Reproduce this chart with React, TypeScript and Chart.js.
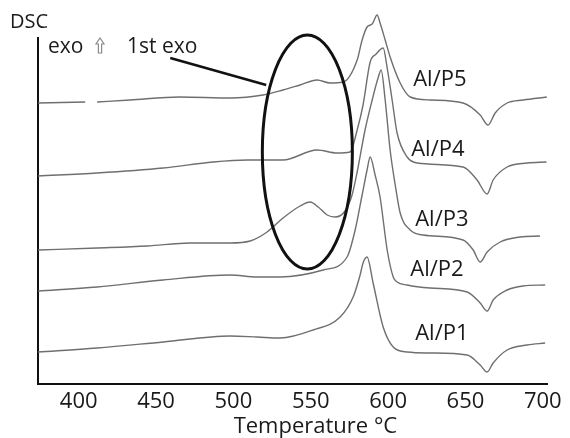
import React, { useEffect, useRef } from "react";
import { Chart, registerables } from "chart.js";

Chart.register(...registerables);

// Temperature axis (°C) and DSC heat-flow traces (arbitrary units, offset per sample)
const tempTicks = [400, 450, 500, 550, 600, 650, 700];

const p1Temp = [373.8, 411.9, 454.6, 497.9, 515.3, 530.2, 551.5, 569.0, 577.4, 581.9, 583.8, 586.4, 590.3, 596.8, 603.3, 612.3, 627.2, 651.1, 659.5, 664.0, 667.9, 676.9, 689.8, 701.5];
const p1Flow = [3.4, 3.8, 4.4, 5.0, 4.9, 4.8, 5.6, 6.9, 8.9, 11.1, 12.3, 12.9, 10.3, 5.9, 3.9, 3.4, 3.3, 3.1, 2.1, 1.4, 2.3, 3.6, 4.1, 4.3];

const p2Temp = [373.8, 411.9, 454.6, 497.9, 515.3, 530.2, 558.0, 573.5, 578.7, 583.2, 586.4, 588.4, 591.6, 594.8, 599.4, 603.3, 605.8, 612.3, 627.2, 651.1, 659.5, 664.0, 667.9, 676.9, 687.3, 701.5];
const p2Flow = [9.5, 9.9, 10.6, 11.1, 10.9, 10.9, 11.6, 12.9, 15.6, 19.1, 21.6, 22.9, 21.1, 18.9, 13.6, 10.9, 10.4, 10.1, 9.8, 9.4, 8.3, 7.5, 8.6, 9.6, 10.0, 10.1];

const p3Temp = [373.8, 411.9, 444.3, 472.1, 497.9, 510.8, 521.8, 532.1, 543.1, 549.6, 554.8, 560.6, 565.8, 572.2, 576.7, 580.0, 585.1, 589.7, 593.5, 595.5, 598.1, 601.3, 604.6, 607.8, 614.3, 622.6, 648.5, 655.0, 659.5, 664.0, 672.4, 685.3, 698.2];
const p3Flow = [13.6, 13.8, 14.0, 14.3, 14.3, 14.5, 15.4, 16.8, 18.0, 18.4, 17.9, 17.1, 16.9, 17.5, 19.1, 21.4, 25.6, 28.6, 30.8, 31.6, 28.6, 23.6, 20.1, 17.3, 15.6, 15.1, 14.6, 13.6, 12.4, 13.4, 14.4, 14.9, 15.0];

const p4Temp = [373.8, 411.9, 454.6, 486.9, 508.9, 532.1, 554.1, 567.0, 575.4, 580.0, 583.8, 588.4, 592.3, 596.8, 599.4, 602.6, 605.8, 612.3, 618.8, 648.5, 657.5, 664.0, 667.9, 676.9, 689.8, 702.4];
const p4Flow = [21.0, 21.3, 21.8, 22.4, 22.6, 22.6, 23.6, 23.3, 23.4, 25.6, 28.1, 32.4, 33.2, 33.8, 31.8, 28.6, 25.3, 22.9, 22.3, 21.9, 20.6, 19.2, 20.6, 21.9, 22.3, 22.4];

const p5Temp = [373.8, 404.2, 408.0, 411.9, 433.2, 465.5, 497.9, 519.2, 532.1, 543.1, 554.1, 562.5, 570.9, 580.0, 583.2, 586.4, 589.7, 592.9, 594.8, 598.1, 601.3, 607.8, 614.3, 627.2, 648.5, 659.5, 664.6, 669.2, 676.9, 687.3, 702.6];
const p5Flow = [28.3, 28.4, null, 28.4, 28.6, 28.9, 28.8, 29.1, 29.6, 30.1, 30.6, 30.3, 30.4, 32.6, 34.6, 35.9, 36.2, 37.1, 36.3, 34.6, 32.9, 30.3, 28.9, 28.6, 28.3, 27.1, 26.1, 27.3, 28.3, 28.6, 28.9];

const seriesNames = ["Al/P1", "Al/P2", "Al/P3", "Al/P4", "Al/P5"];
const labelTemp = [617.5, 614.3, 617.5, 614.9, 616.2];
const labelFlow = [5.2, 11.6, 16.6, 23.6, 30.6];

// Highlighted first exotherm region and its pointer
const ellipseCenter = [547.8, 23.4];
const ellipseRadius = [29.1, 11.7];
const pointerFrom = [459.2, 32.8];
const pointerTo = [521.2, 30.1];
const axisTitleTemp = 553;

const FONT = "'Open Sans', 'DejaVu Sans', sans-serif";
const CURVE = "#6f6f6f";
const INK = "#1a1a1a";

const annotate = {
  id: "annotate",
  afterDraw(chart: any) {
    const { ctx, chartArea, scales } = chart;
    const xs = scales.x;
    const ys = scales.y;
    const px = (t: number) => xs.getPixelForValue(t);
    const py = (v: number) => ys.getPixelForValue(v);
    ctx.save();

    // ellipse around the first exotherm
    const cx = px(ellipseCenter[0]);
    const cy = py(ellipseCenter[1]);
    const rx = px(ellipseCenter[0] + ellipseRadius[0]) - cx;
    const ry = cy - py(ellipseCenter[1] + ellipseRadius[1]);
    ctx.beginPath();
    ctx.ellipse(cx, cy, rx, ry, 0, 0, Math.PI * 2);
    ctx.lineWidth = 3;
    ctx.strokeStyle = "#111";
    ctx.stroke();

    // pointer from the "1st exo" note
    ctx.beginPath();
    ctx.moveTo(px(pointerFrom[0]), py(pointerFrom[1]));
    ctx.lineTo(px(pointerTo[0]), py(pointerTo[1]));
    ctx.lineWidth = 2.5;
    ctx.stroke();

    // sample labels
    ctx.fillStyle = INK;
    ctx.font = `22px ${FONT}`;
    ctx.textAlign = "left";
    ctx.textBaseline = "middle";
    seriesNames.forEach((name, i) => {
      ctx.fillText(name, px(labelTemp[i]), py(labelFlow[i]));
    });

    // x-axis title
    ctx.textAlign = "center";
    ctx.textBaseline = "alphabetic";
    ctx.font = `22px ${FONT}`;
    ctx.fillText("Temperature °C", px(axisTitleTemp), chartArea.bottom + 49);

    // y-axis caption and exo marker
    const left = chartArea.left;
    const top = chartArea.top;
    ctx.textAlign = "left";
    ctx.font = `20px ${FONT}`;
    ctx.fillText("DSC", left - 28, top - 10);
    ctx.font = `21px ${FONT}`;
    ctx.fillText("exo", left + 10, top + 15);
    ctx.fillText("1st exo", left + 89, top + 15);

    // hollow up arrow
    const ax = left + 62;
    const ay = top;
    ctx.beginPath();
    ctx.moveTo(ax, ay);
    ctx.lineTo(ax + 4, ay + 6);
    ctx.lineTo(ax + 1.6, ay + 6);
    ctx.lineTo(ax + 1.6, ay + 15);
    ctx.lineTo(ax - 1.6, ay + 15);
    ctx.lineTo(ax - 1.6, ay + 6);
    ctx.lineTo(ax - 4, ay + 6);
    ctx.closePath();
    ctx.lineWidth = 1.2;
    ctx.strokeStyle = "#8a8a8a";
    ctx.stroke();

    ctx.restore();
  },
};

export default function App() {
  const ref = useRef<HTMLCanvasElement>(null);

  useEffect(() => {
    const canvas = ref.current;
    if (!canvas) return;
    const series = [
      { name: seriesNames[0], t: p1Temp, f: p1Flow },
      { name: seriesNames[1], t: p2Temp, f: p2Flow },
      { name: seriesNames[2], t: p3Temp, f: p3Flow },
      { name: seriesNames[3], t: p4Temp, f: p4Flow },
      { name: seriesNames[4], t: p5Temp, f: p5Flow },
    ];
    const chart = new Chart(canvas, {
      type: "line",
      data: {
        datasets: series.map((s) => ({
          label: s.name,
          data: s.t.map((t, i) => ({ x: t, y: s.f[i] })),
          borderColor: CURVE,
          borderWidth: 1.4,
          pointRadius: 0,
          cubicInterpolationMode: "monotone",
          spanGaps: false,
          fill: false,
          clip: false,
        })) as any,
      },
      options: {
        responsive: false,
        animation: false,
        events: [],
        layout: { padding: { left: 38, top: 38, right: 23, bottom: 0 } },
        plugins: {
          legend: { display: false },
          tooltip: { enabled: false },
          title: { display: false },
        },
        scales: {
          x: {
            type: "linear",
            min: 373.7,
            max: 702.7,
            grid: { display: false, drawTicks: false },
            border: { display: true, color: "#111", width: 2 },
            afterBuildTicks: (scale: any) => {
              scale.ticks = tempTicks.map((v) => ({ value: v }));
            },
            afterFit: (scale: any) => {
              scale.height = 54;
            },
            ticks: {
              color: INK,
              padding: 5,
              maxRotation: 0,
              autoSkip: false,
              font: { family: FONT, size: 22 },
            },
          },
          y: {
            type: "linear",
            min: 0.2,
            max: 34.8,
            grid: { display: false, drawTicks: false },
            border: { display: true, color: "#111", width: 2 },
            ticks: { display: false },
            afterFit: (scale: any) => {
              scale.width = 0;
            },
          },
        },
      },
      plugins: [annotate],
    });
    if ((document as any).fonts?.ready) {
      (document as any).fonts.ready.then(() => chart.update());
    }
    return () => chart.destroy();
  }, []);

  return (
    <div style={{ position: "fixed", left: 0, top: 0, width: 570, height: 438, background: "#fff" }}>
      <canvas ref={ref} width={570} height={438} style={{ display: "block" }} />
    </div>
  );
}
